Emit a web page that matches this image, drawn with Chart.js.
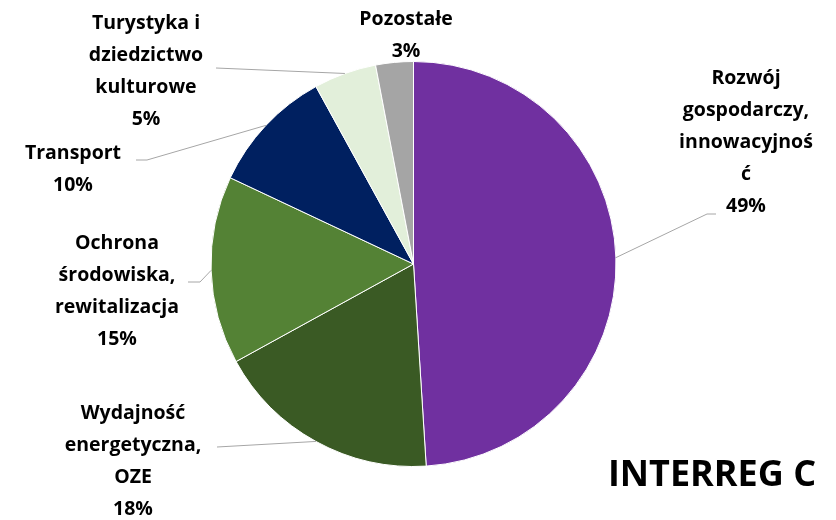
<!DOCTYPE html>
<html>
<head>
<meta charset="utf-8">
<script src="https://cdn.jsdelivr.net/npm/chart.js@4"></script>
<style>
  html, body { margin: 0; padding: 0; background: #ffffff; }
  #wrap { width: 836px; height: 520px; position: relative; }
</style>
</head>
<body>
<div id="wrap"><canvas id="pieChart" width="836" height="520"></canvas></div>
<script>
// Data
const categories = [
    ['Rozwój', 'gospodarczy,', 'innowacyjnoś', 'ć'],
    ['Wydajność', 'energetyczna,', 'OZE'],
    ['Ochrona', 'środowiska,', 'rewitalizacja'],
    ['Transport'],
    ['Turystyka i', 'dziedzictwo', 'kulturowe'],
    ['Pozostałe']
];
const shares = [49, 18, 15, 10, 5, 3];
const sliceColors = ['#7030A0', '#3A5A24', '#548235', '#002060', '#E2EFDA', '#A5A5A5'];
const chartTitle = 'INTERREG C';

// Label placement (text centre x, first line y, leader elbow / end points)
const labelLayout = [
    { x: 746, y: 78,  lead: [[707, 214], [716, 214]] },
    { x: 133, y: 413, lead: [[217, 447]] },
    { x: 117, y: 243, lead: [[200, 282], [188, 282]] },
    { x: 73,  y: 153, lead: [[147, 160], [136, 160]] },
    { x: 146, y: 23,  lead: [[216, 68]] },
    { x: 406, y: 19,  lead: null }
];
const lineHeight = 32;
const labelFont = 'bold 19.5px "Open Sans"';

const pieLabels = {
    id: 'pieLabels',
    afterDraw(chart) {
        const ctx = chart.ctx;
        const arcs = chart.getDatasetMeta(0).data;
        ctx.save();
        // leader lines
        ctx.strokeStyle = '#A6A6A6';
        ctx.lineWidth = 1;
        arcs.forEach((arc, i) => {
            const pos = labelLayout[i];
            if (!pos.lead) return;
            const p = arc.getProps(['x', 'y', 'startAngle', 'endAngle', 'outerRadius'], true);
            const mid = (p.startAngle + p.endAngle) / 2;
            ctx.beginPath();
            ctx.moveTo(p.x + Math.cos(mid) * p.outerRadius, p.y + Math.sin(mid) * p.outerRadius);
            pos.lead.forEach(pt => ctx.lineTo(pt[0], pt[1]));
            ctx.stroke();
        });
        // texts
        ctx.fillStyle = '#000000';
        ctx.font = labelFont;
        ctx.textAlign = 'center';
        ctx.textBaseline = 'middle';
        arcs.forEach((arc, i) => {
            const pos = labelLayout[i];
            const lines = categories[i].concat([shares[i] + '%']);
            lines.forEach((t, k) => ctx.fillText(t, pos.x, pos.y + k * lineHeight));
        });
        // title
        ctx.font = 'bold 36px "Open Sans"';
        ctx.textAlign = 'center';
        ctx.fillText(chartTitle, 712, 476);
        ctx.restore();
    }
};

const pieCtx = document.getElementById('pieChart').getContext('2d');
const pieChart = new Chart(pieCtx, {
    type: 'pie',
    data: {
        labels: categories.map(c => c.join(' ')),
        datasets: [{
            data: shares,
            backgroundColor: sliceColors,
            borderColor: '#ffffff',
            borderWidth: 1
        }]
    },
    options: {
        responsive: false,
        animation: false,
        layout: {
            padding: { left: 210, right: 219, top: 61, bottom: 53 }
        },
        plugins: {
            legend: { display: false },
            tooltip: { enabled: false }
        }
    },
    plugins: [pieLabels]
});
</script>
</body>
</html>
